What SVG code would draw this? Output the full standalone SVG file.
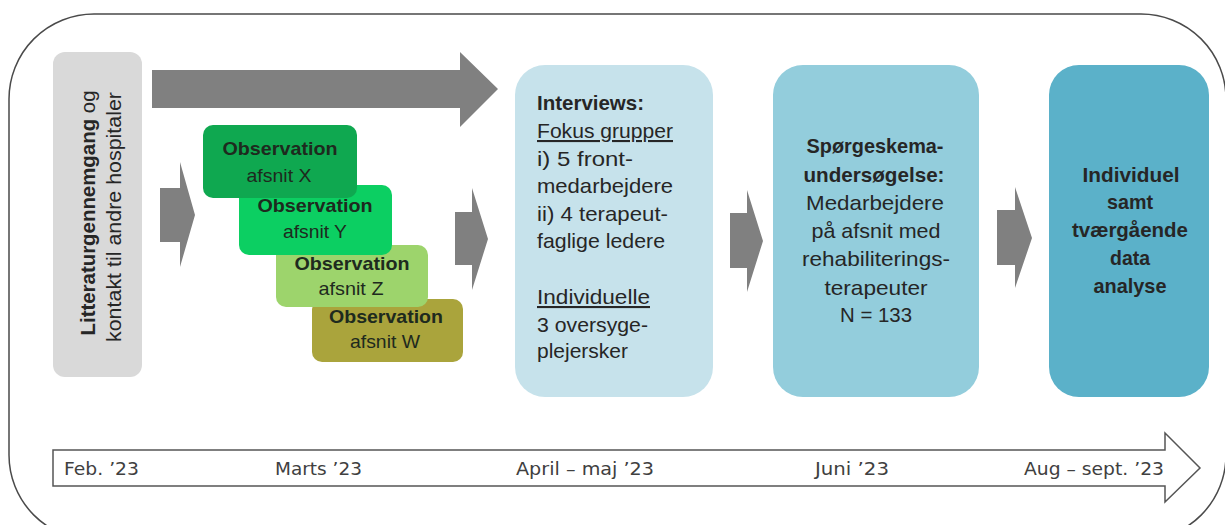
<svg xmlns="http://www.w3.org/2000/svg" width="1225" height="525" viewBox="0 0 1225 525">
<style>
.t{font-family:"Liberation Sans",Arial,sans-serif;font-size:21px;fill:#262626}
.b{font-weight:bold}
.c{text-anchor:middle}
.o{font-family:"Liberation Sans",Arial,sans-serif;font-size:19px;fill:#1e2a1e;text-anchor:middle}
.tl{font-family:"DejaVu Sans",Verdana,sans-serif;font-size:18px;fill:#404040}
.arr{fill:#808080}
.u{text-decoration:underline}
</style>
<rect x="9" y="14" width="1217" height="526" rx="85" ry="85" fill="#ffffff" stroke="#4a4a4a" stroke-width="1.5"/>

<g id="connectors">
<polygon class="arr" points="152,70 460,70 460,52 498,89 460,127 460,108 152,108"/>
<polygon class="arr" points="160,188 180,188 180,162 195,215 180,267 180,242 160,242"/>
<polygon class="arr" points="455,212 472,212 472,188 488,239 472,290 472,265 455,265"/>
<polygon class="arr" points="730,213 747,213 747,190 763,241 747,292 747,268 730,268"/>
<polygon class="arr" points="997,210 1015,210 1015,187 1032,238 1015,288 1015,265 997,265"/>
</g>

<g id="litteratur">
<rect x="53" y="52" width="89" height="325" rx="12" fill="#d9d9d9"/>
<text class="t" transform="translate(95,213) rotate(-90)" text-anchor="middle" textLength="245" lengthAdjust="spacingAndGlyphs"><tspan class="b">Litteraturgennemgang</tspan> og</text>
<text class="t" transform="translate(121,217) rotate(-90)" text-anchor="middle" textLength="250" lengthAdjust="spacingAndGlyphs">kontakt til andre hospitaler</text>
</g>

<g id="obs-w">
<rect x="312" y="299" width="151" height="63" rx="10" fill="#aaa43c"/>
<text class="o b" x="386" y="323" textLength="114" lengthAdjust="spacingAndGlyphs">Observation</text>
<text class="o" x="385" y="348" textLength="70" lengthAdjust="spacingAndGlyphs">afsnit W</text>
</g>
<g id="obs-z">
<rect x="276" y="245" width="152" height="62" rx="10" fill="#9dd46c"/>
<text class="o b" x="352" y="270" textLength="115" lengthAdjust="spacingAndGlyphs">Observation</text>
<text class="o" x="351" y="295" textLength="65" lengthAdjust="spacingAndGlyphs">afsnit Z</text>
</g>
<g id="obs-y">
<rect x="239" y="185" width="153" height="70" rx="10" fill="#0ccf62"/>
<text class="o b" x="315" y="212" textLength="115" lengthAdjust="spacingAndGlyphs">Observation</text>
<text class="o" x="315" y="238" textLength="64" lengthAdjust="spacingAndGlyphs">afsnit Y</text>
</g>
<g id="obs-x">
<rect x="203" y="125" width="154" height="73" rx="10" fill="#0fa850"/>
<text class="o b" x="280" y="155" textLength="115" lengthAdjust="spacingAndGlyphs">Observation</text>
<text class="o" x="279" y="182" textLength="65" lengthAdjust="spacingAndGlyphs">afsnit X</text>
</g>

<g id="interviews">
<rect x="515" y="65" width="198" height="332" rx="30" fill="#c6e2eb"/>
<text class="t b" x="537" y="110" textLength="107" lengthAdjust="spacingAndGlyphs">Interviews:</text>
<text class="t u" x="537" y="138" textLength="136" lengthAdjust="spacingAndGlyphs">Fokus grupper</text>
<text class="t" x="537" y="166" textLength="96" lengthAdjust="spacingAndGlyphs">i) 5 front-</text>
<text class="t" x="537" y="193" textLength="136" lengthAdjust="spacingAndGlyphs">medarbejdere</text>
<text class="t" x="537" y="221" textLength="131" lengthAdjust="spacingAndGlyphs">ii) 4 terapeut-</text>
<text class="t" x="537" y="248" textLength="128" lengthAdjust="spacingAndGlyphs">faglige ledere</text>
<text class="t u" x="537" y="304" textLength="113" lengthAdjust="spacingAndGlyphs">Individuelle</text>
<text class="t" x="537" y="332" textLength="111" lengthAdjust="spacingAndGlyphs">3 oversyge-</text>
<text class="t" x="537" y="358" textLength="91" lengthAdjust="spacingAndGlyphs">plejersker</text>
</g>

<g id="spoergeskema">
<rect x="773" y="65" width="206" height="332" rx="30" fill="#93cddc"/>
<text class="t b c" x="875" y="153" textLength="137" lengthAdjust="spacingAndGlyphs">Spørgeskema-</text>
<text class="t b c" x="874" y="182" textLength="141" lengthAdjust="spacingAndGlyphs">undersøgelse:</text>
<text class="t c" x="875" y="210" textLength="138" lengthAdjust="spacingAndGlyphs">Medarbejdere</text>
<text class="t c" x="876" y="238" textLength="129" lengthAdjust="spacingAndGlyphs">på afsnit med</text>
<text class="t c" x="876" y="266" textLength="148" lengthAdjust="spacingAndGlyphs">rehabiliterings-</text>
<text class="t c" x="876" y="295" textLength="103" lengthAdjust="spacingAndGlyphs">terapeuter</text>
<text class="t c" x="876" y="322" textLength="72" lengthAdjust="spacingAndGlyphs">N = 133</text>
</g>

<g id="analyse">
<rect x="1049" y="65" width="160" height="332" rx="30" fill="#5bb1c9"/>
<text class="t b c" x="1131" y="182" textLength="97" lengthAdjust="spacingAndGlyphs">Individuel</text>
<text class="t b c" x="1130" y="209" textLength="46" lengthAdjust="spacingAndGlyphs">samt</text>
<text class="t b c" x="1130" y="237" textLength="116" lengthAdjust="spacingAndGlyphs">tværgående</text>
<text class="t b c" x="1130" y="265" textLength="40" lengthAdjust="spacingAndGlyphs">data</text>
<text class="t b c" x="1130" y="293" textLength="73" lengthAdjust="spacingAndGlyphs">analyse</text>
</g>

<g id="timeline">
<polygon points="53,450 1165,450 1165,433 1200,468 1165,502 1165,486 53,486" fill="#ffffff" stroke="#555555" stroke-width="1.5"/>
<text class="tl" x="64" y="475" textLength="75" lengthAdjust="spacingAndGlyphs">Feb. ’23</text>
<text class="tl" x="275" y="475" textLength="87" lengthAdjust="spacingAndGlyphs">Marts ’23</text>
<text class="tl" x="516" y="475" textLength="138" lengthAdjust="spacingAndGlyphs">April – maj ’23</text>
<text class="tl" x="815" y="475" textLength="74" lengthAdjust="spacingAndGlyphs">Juni ’23</text>
<text class="tl" x="1024" y="475" textLength="140" lengthAdjust="spacingAndGlyphs">Aug – sept. ’23</text>
</g>
</svg>
